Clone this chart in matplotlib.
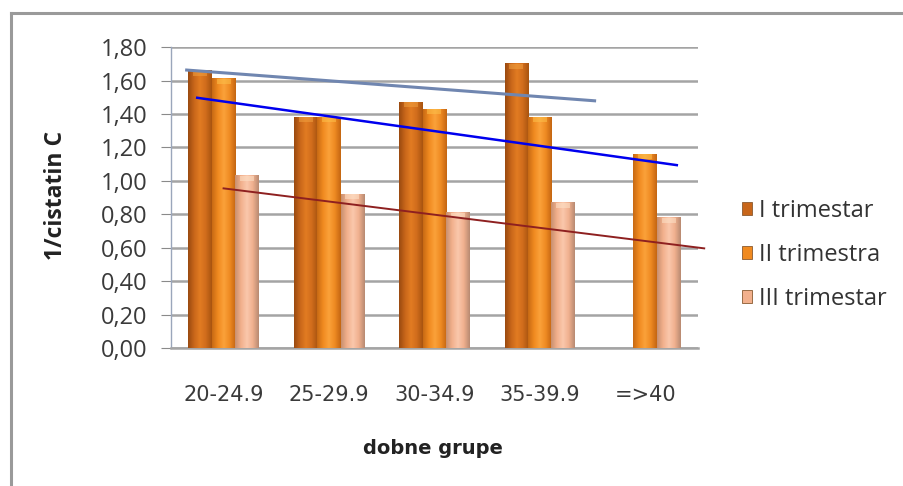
import numpy as np
import matplotlib
matplotlib.use("Agg")
from matplotlib import pyplot as plt
from matplotlib.colors import LinearSegmentedColormap
from matplotlib.patches import Patch
from matplotlib.lines import Line2D
from matplotlib.ticker import FuncFormatter

# age groups and the three trimester series
groups = ["20-24.9", "25-29.9", "30-34.9", "35-39.9", "=>40"]
series_names = ["I trimestar", "II trimestra", "III trimestar"]
trim_1 = [1.66, 1.38, 1.47, 1.70, np.nan]
trim_2 = [1.61, 1.38, 1.43, 1.38, 1.16]
trim_3 = [1.03, 0.92, 0.81, 0.87, 0.78]

# hand drawn trend lines: (category position, value) at both ends
trend_grey_x = [-0.35, 3.52]
trend_grey_y = [1.663, 1.479]
trend_blue_x = [-0.25, 4.30]
trend_blue_y = [1.497, 1.094]
trend_red_x = [0.0, 4.56]
trend_red_y = [0.955, 0.596]

plt.rcParams['font.family'] = ['Open Sans', 'DejaVu Sans']

fig = plt.figure(figsize=(9.04, 4.86), dpi=100)
ax = fig.add_axes([0.189, 0.284, 0.583, 0.619])

# cylinder like shading for each series
cmaps = [
    LinearSegmentedColormap.from_list('t1', ['#9a4a10', '#c8661a', '#e27c22', '#d06c1c', '#a85410']),
    LinearSegmentedColormap.from_list('t2', ['#c86a14', '#f08a20', '#fba23a', '#ee8a22', '#c46612']),
    LinearSegmentedColormap.from_list('t3', ['#c89070', '#f2b08c', '#fac8ac', '#f0b08e', '#b88a72']),
]
cap_cols = ['#f0a040', '#fcc04a', '#fde2c8']
legend_cols = ['#c8661a', '#f08a20', '#f2b08c']

x = np.arange(len(groups))
w = 0.222
grad = np.linspace(0, 1, 64).reshape(1, -1)
for k, vals in enumerate([trim_1, trim_2, trim_3]):
    bars = ax.bar(x + (k - 1) * w, vals, width=w, color='none', zorder=3)
    for b in bars:
        h = b.get_height()
        if not np.isfinite(h):
            continue
        bx = b.get_x()
        ax.imshow(grad, extent=[bx, bx + w, 0, h], aspect='auto',
                  cmap=cmaps[k], zorder=3)
        # lighter cap on top of the bar
        ax.fill_between([bx + w * 0.2, bx + w * 0.8], h - 0.03, h,
                        color=cap_cols[k], alpha=0.55, lw=0, zorder=3.1)

ax.plot(trend_grey_x, trend_grey_y, color='#7086b0', lw=2.2, zorder=4, clip_on=False)
ax.plot(trend_blue_x, trend_blue_y, color='#0000ee', lw=1.8, zorder=4, clip_on=False)
ax.plot(trend_red_x, trend_red_y, color='#8e2020', lw=1.4, zorder=4, clip_on=False)

ax.set_xlim(-0.5, 4.5)
ax.set_ylim(0, 1.8)
ax.set_yticks(np.arange(0, 1.81, 0.2))
ax.yaxis.set_major_formatter(FuncFormatter(lambda v, p: f"{v:.2f}".replace('.', ',')))
ax.set_xticks(x)
ax.set_xticklabels(groups, family='DejaVu Sans', fontsize=15, color='#3a3a3a')
ax.tick_params(axis='x', length=0, pad=27)
ax.tick_params(axis='y', length=7, color='#8a8a8a', labelsize=17, labelcolor='#3a3a3a', pad=10)

ax.grid(axis='y', color='#a4a4a4', lw=1.8, zorder=0)
ax.set_axisbelow(True)
for s in ['top', 'right']:
    ax.spines[s].set_visible(False)
ax.spines['left'].set_color('#9aa6bb')
ax.spines['left'].set_linewidth(1)
ax.spines['bottom'].set_color('#a4a4a4')
ax.spines['bottom'].set_linewidth(1.8)

ax.set_ylabel('1/cistatin C', fontsize=16.5, fontweight='bold', color='#222222')
ax.yaxis.set_label_coords(-0.195, 0.508)
ax.set_xlabel('dobne grupe', family='DejaVu Sans', fontsize=14, fontweight='bold', color='#222222')
ax.xaxis.set_label_coords(0.497, -0.303)

handles = [Patch(facecolor=c, edgecolor='#8a5a30', lw=0.6) for c in legend_cols]
fig.legend(handles, series_names, loc='center left', bbox_to_anchor=(0.797, 0.476),
           frameon=False, fontsize=17, handlelength=0.45, handleheight=0.45,
           handletextpad=0.3, labelspacing=0.85, labelcolor='#333333')

# outer chart frame (only left and top edges are visible)
fig.add_artist(Line2D([0.012, 0.012], [0, 0.973], color='#9a9a9a', lw=2.2))
fig.add_artist(Line2D([0.012, 1.0], [0.973, 0.973], color='#9a9a9a', lw=2.2))

plt.savefig('out.png', dpi=100)
